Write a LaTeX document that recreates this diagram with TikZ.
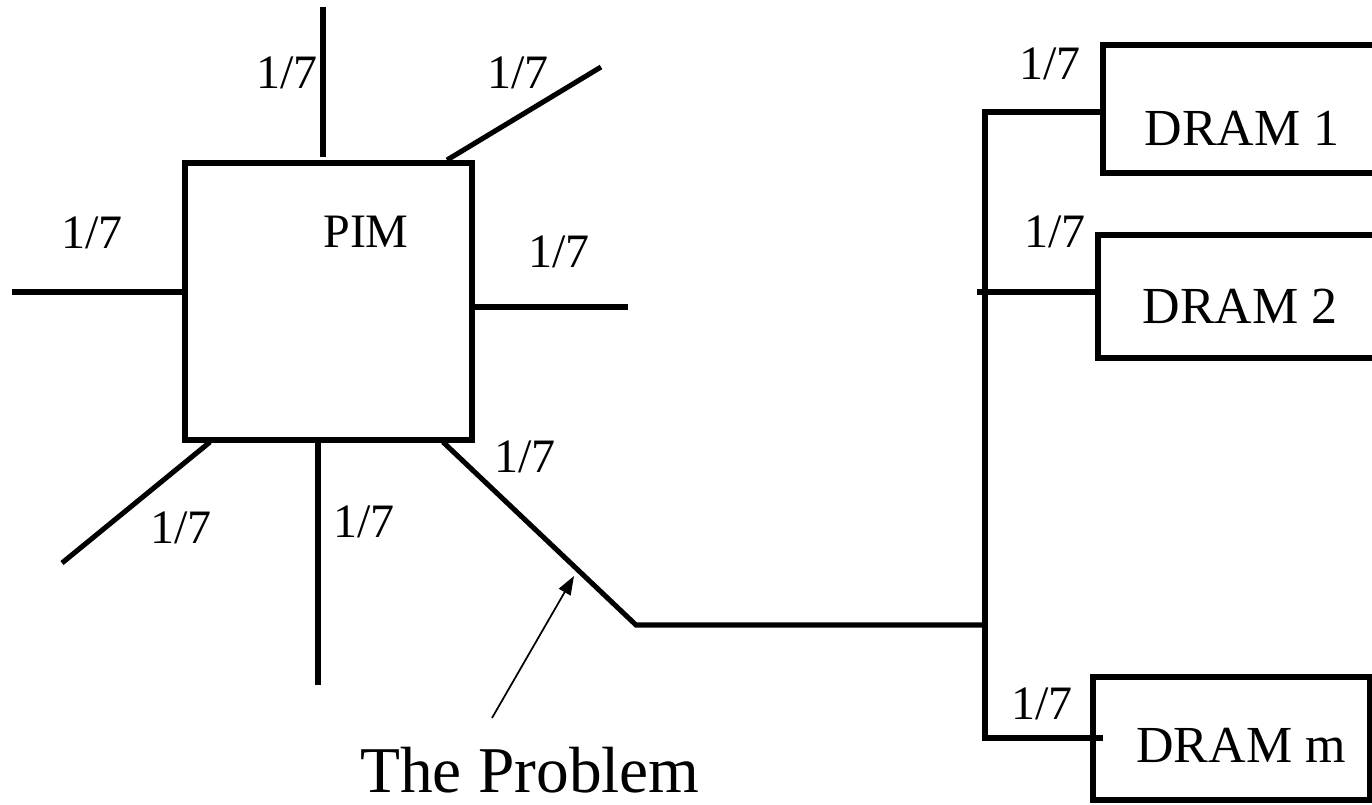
\documentclass[tikz,border=0pt]{standalone}
\usepackage{fontspec}
\setmainfont{Liberation Serif}
\usetikzlibrary{arrows.meta}
\begin{document}
\begin{tikzpicture}[x=0.75pt,y=-0.75pt,
  wire/.style={line width=3.8pt},
  frac/.style={font=\fontsize{36}{40}\selectfont, inner sep=0pt},
  dramlbl/.style={font=\fontsize{39}{44}\selectfont, inner sep=0pt},
  boxst/.style={draw, line width=3.8pt, inner sep=0pt}]
\useasboundingbox (0,0) rectangle (1372,804);
\clip (0,0) rectangle (1372,804);
% PIM box
\draw[boxst] (185,163) rectangle (472,440);
\node[font=\fontsize{36}{40}\selectfont, inner sep=0pt] (pim) at (366,232) {PIM};
% PIM wires
\coordinate (t1) at (323,7);   \coordinate (t2) at (323,157);
\coordinate (tr1) at (447,160); \coordinate (tr2) at (601,67);
\coordinate (l1) at (12,292);  \coordinate (l2) at (183,292);
\coordinate (r1) at (474,307); \coordinate (r2) at (628,307);
\coordinate (bl1) at (210,442); \coordinate (bl2) at (62,563);
\coordinate (b1) at (318,442); \coordinate (b2) at (318,685);
\coordinate (br1) at (443,442); \coordinate (br2) at (636,625);
\coordinate (bus) at (985,625);
\draw[wire] (t1) -- (t2);
\draw[wire] (tr1) -- (tr2);
\draw[wire] (l1) -- (l2);
\draw[wire] (r1) -- (r2);
\draw[wire] (bl1) -- (bl2);
\draw[wire] (b1) -- (b2);
\draw[wire] (br1) -- (br2) -- (bus);
% labels around PIM
\node[frac] (f1) at (287,73) {1/7};
\node[frac] (f2) at (518,73) {1/7};
\node[frac] (f3) at (92,233) {1/7};
\node[frac] (f4) at (559,252) {1/7};
\node[frac] (f5) at (525,457) {1/7};
\node[frac] (f6) at (181,528) {1/7};
\node[frac] (f7) at (364,522) {1/7};
% DRAM boxes
\draw[boxst] (1380,45) -- (1103,45) -- (1103,173) -- (1380,173);
\draw[boxst] (1380,235) -- (1098,235) -- (1098,358) -- (1380,358);
\draw[boxst] (1093,677) rectangle (1370,800);
\node[dramlbl] (d1) at (1242,128) {DRAM 1};
\node[dramlbl] (d2) at (1240,306) {DRAM 2};
\node[dramlbl] (dm) at (1241,745) {DRAM m};
% bus
\coordinate (bt) at (985,112);
\coordinate (bb) at (985,738);
\draw[wire] (1103,112) -- (bt) -- (bb) -- (1103,738);
\draw[wire] (977,292) -- (1098,292);
\node[frac] (g1) at (1050,64) {1/7};
\node[frac] (g2) at (1055,232) {1/7};
\node[frac] (g3) at (1042,704) {1/7};
% The Problem
\node[font=\fontsize{49}{54}\selectfont, inner sep=0pt] (prob) at (530,770) {The Problem};
\coordinate (atail) at (492,718);
\coordinate (ahead) at (574,576);
\draw[line width=1.3pt, -{Triangle[length=14pt,width=10pt]}] (atail) -- (ahead);
\end{tikzpicture}
\end{document}
